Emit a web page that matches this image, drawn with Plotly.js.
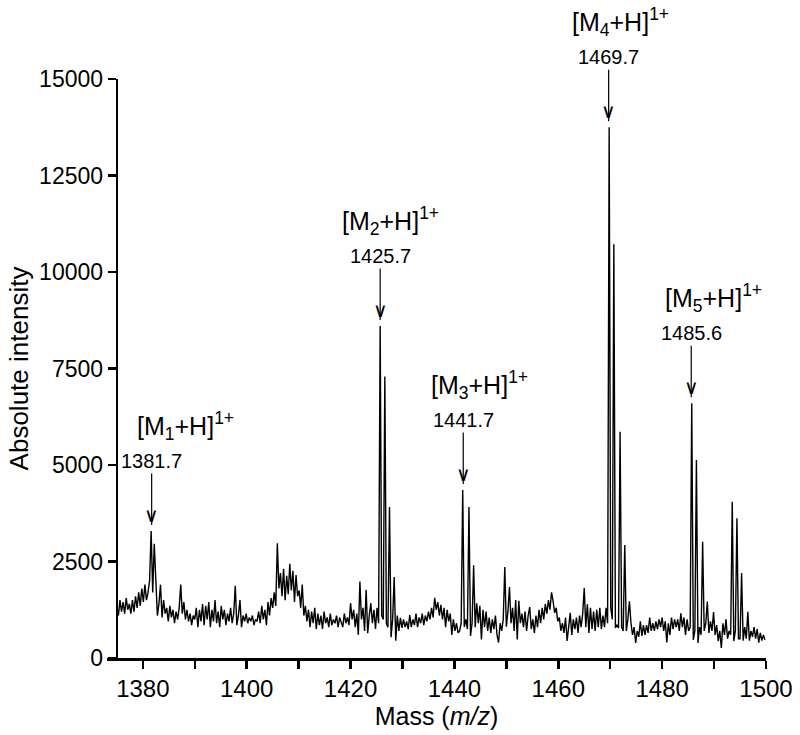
<!DOCTYPE html>
<html>
<head>
<meta charset="utf-8">
<script src="https://cdn.plot.ly/plotly-3.0.1.min.js"></script>
<style>
  html, body { margin: 0; padding: 0; background: #fff; }
  #spectrum { width: 800px; height: 735px; }
</style>
</head>
<body>
<div id="spectrum"></div>
<script>
// MALDI spectrum, m/z 1375-1500, sampled every 0.3 m/z
var mzStart = 1375.0;
var mzStep = 0.3;

// intensity, one row = 3 m/z (10 samples)
var intensity = [
  1350, 1100, 1500, 1200, 1450, 1150, 1550, 1250, 1400, 1150,   // 1375
  1500, 1200, 1600, 1300, 1700, 1350, 1800, 1450, 1900, 1500,   // 1378
  1700, 2000, 3290, 1700, 2960, 1800, 1100, 1400, 1900, 1050,   // 1381
  1500, 1150, 1300, 950, 1350, 1050, 1250, 900, 1200, 1000,     // 1384
  1300, 1900, 1150, 1450, 1000, 1250, 950, 1150, 850, 1100,     // 1387
  1000, 1300, 800, 1250, 950, 1400, 850, 1350, 1000, 1450,      // 1390
  800, 1250, 950, 1500, 900, 1200, 800, 1350, 1000, 1250,       // 1393
  850, 1150, 950, 1300, 900, 1150, 1870, 850, 1100, 1500,       // 1396
  800, 1100, 950, 1150, 900, 1050, 950, 1100, 850, 1000,        // 1399
  950, 1200, 900, 1350, 1000, 1250, 850, 1450, 1100, 1550,      // 1402
  1300, 1700, 1350, 2970, 1800, 2200, 1600, 2310, 1500, 2130,   // 1405
  1650, 2440, 1750, 2260, 1450, 2150, 1600, 1750, 1300, 1900,   // 1408
  1100, 1350, 950, 1250, 800, 1200, 900, 1300, 750, 1150,       // 1411
  850, 1100, 750, 1200, 900, 1050, 800, 1150, 850, 1000,        // 1414
  900, 1100, 800, 1050, 950, 800, 1150, 900, 1050, 850,         // 1417
  1420, 1000, 1250, 800, 1150, 600, 1980, 1000, 1300, 700,      // 1420
  1770, 640, 1100, 1420, 900, 1250, 750, 1300, 900, 8600,       // 1423
  1100, 1000, 7290, 900, 800, 3910, 540, 1000, 2100, 450,       // 1426
  1100, 700, 1040, 780, 1000, 800, 950, 750, 1110, 800,         // 1429
  1000, 850, 1150, 800, 1050, 900, 1150, 850, 1100, 950,        // 1432
  1200, 1000, 1300, 1050, 1560, 1250, 1450, 1100, 1380, 1000,   // 1435
  1300, 800, 1250, 950, 1150, 600, 1000, 700, 900, 650,         // 1438
  700, 900, 4350, 810, 1000, 750, 3910, 570, 900, 2400,         // 1441
  800, 1420, 900, 1350, 480, 1250, 800, 1200, 700, 1050,        // 1444
  650, 1000, 750, 1100, 600, 400, 900, 700, 1000, 2360,         // 1447
  810, 1200, 1840, 900, 1300, 700, 1500, 480, 1480, 900,        // 1450
  1150, 800, 1200, 700, 1100, 1320, 750, 1000, 650, 1100,       // 1453
  800, 1250, 900, 1300, 1000, 1400, 1150, 1500, 1250, 1700,     // 1456
  1480, 1170, 1300, 950, 1050, 700, 900, 650, 1050, 440,        // 1459
  800, 1170, 600, 1000, 750, 1050, 650, 1100, 800, 1150,        // 1462
  1810, 800, 1390, 650, 1300, 750, 1200, 700, 1250, 800,        // 1465
  1300, 750, 1100, 800, 1300, 900, 13750, 1300, 1000, 10720,    // 1468
  780, 850, 780, 5860, 800, 700, 2930, 700, 1000, 1470,         // 1471
  900, 600, 800, 390, 700, 550, 950, 570, 850, 600,             // 1474
  850, 650, 1050, 700, 900, 700, 950, 750, 1000, 800,           // 1477
  1050, 700, 950, 400, 900, 600, 1050, 750, 1000, 800,          // 1480
  1000, 700, 1160, 800, 1050, 600, 1000, 700, 800, 6600,        // 1483
  470, 700, 5130, 390, 800, 600, 3010, 700, 900, 1460,          // 1486
  650, 950, 700, 1190, 600, 850, 440, 700, 260, 900,            // 1489
  600, 1000, 500, 700, 600, 4050, 440, 700, 3620, 500,          // 1492
  500, 2200, 450, 800, 500, 1200, 450, 700, 550, 800,           // 1495
  500, 750, 400, 650, 450, 600, 470                             // 1498
];

var mz = intensity.map(function (v, i) { return +(mzStart + i * mzStep).toFixed(1); });

// labelled peaks
var peakMz = [1381.7, 1425.7, 1441.7, 1469.7, 1485.6];
var peakTop = [3290, 8600, 4350, 13750, 6600];
var peakIon = ['M<sub>1</sub>', 'M<sub>2</sub>', 'M<sub>3</sub>', 'M<sub>4</sub>', 'M<sub>5</sub>'];
var labelShift = [34, 10, 16, 12, 22];

var fontFam = 'Liberation Sans, Arial, sans-serif';

var spectrum = {
  x: mz,
  y: intensity,
  mode: 'lines',
  type: 'scatter',
  line: { color: '#000', width: 1.4 },
  hoverinfo: 'x+y',
  showlegend: false
};

var annotations = [];
peakMz.forEach(function (m, i) {
  // number with arrow shaft
  annotations.push({
    x: m, y: peakTop[i], xref: 'x', yref: 'y',
    text: m.toFixed(1),
    showarrow: true, arrowhead: 0, arrowwidth: 1.2, arrowcolor: '#000',
    ax: 0, ay: -70, standoff: 6,
    font: { family: fontFam, size: 20, color: '#000' }
  });
  // open arrow head
  annotations.push({
    x: m, y: peakTop[i], xref: 'x', yref: 'y',
    text: '\u2228', showarrow: false,
    yanchor: 'bottom', yshift: 2,
    font: { family: 'DejaVu Sans', size: 20, color: '#000' }
  });
  // ion label
  annotations.push({
    x: m, y: peakTop[i], xref: 'x', yref: 'y',
    text: '[' + peakIon[i] + '+H]<sup>1+</sup>', showarrow: false,
    yshift: 105, xshift: labelShift[i],
    font: { family: fontFam, size: 25, color: '#000' }
  });
});

var layout = {
  width: 800,
  height: 735,
  margin: { l: 107, r: 34, t: 79, b: 77 },
  paper_bgcolor: '#fff',
  plot_bgcolor: '#fff',
  font: { family: fontFam, size: 23, color: '#000' },
  xaxis: {
    range: [1373.1, 1500],
    tickvals: [1380, 1400, 1420, 1440, 1460, 1480, 1500],
    ticks: 'outside', ticklen: 8, tickwidth: 2.5, tickcolor: '#000',
    minor: { dtick: 10, tick0: 1380, ticks: 'outside', ticklen: 8, tickwidth: 2.5, tickcolor: '#000' },
    showline: true, linewidth: 2.5, linecolor: '#000',
    showgrid: false, zeroline: false,
    tickfont: { size: 24 },
    title: { text: 'Mass (<i>m/z</i>)', font: { size: 25 }, standoff: 0 }
  },
  yaxis: {
    range: [0, 15000],
    anchor: 'free', position: 0.0147,
    tickvals: [0, 2500, 5000, 7500, 10000, 12500, 15000],
    tickformat: 'd',
    ticks: 'outside', ticklen: 8, tickwidth: 2.5, tickcolor: '#000',
    showline: true, linewidth: 2.5, linecolor: '#000',
    showgrid: false, zeroline: false,
    tickfont: { size: 23 },
    title: { text: 'Absolute intensity', font: { size: 26 }, standoff: 2 }
  },
  annotations: annotations
};

Plotly.newPlot('spectrum', [spectrum], layout, { displayModeBar: false, staticPlot: true });
</script>
</body>
</html>
